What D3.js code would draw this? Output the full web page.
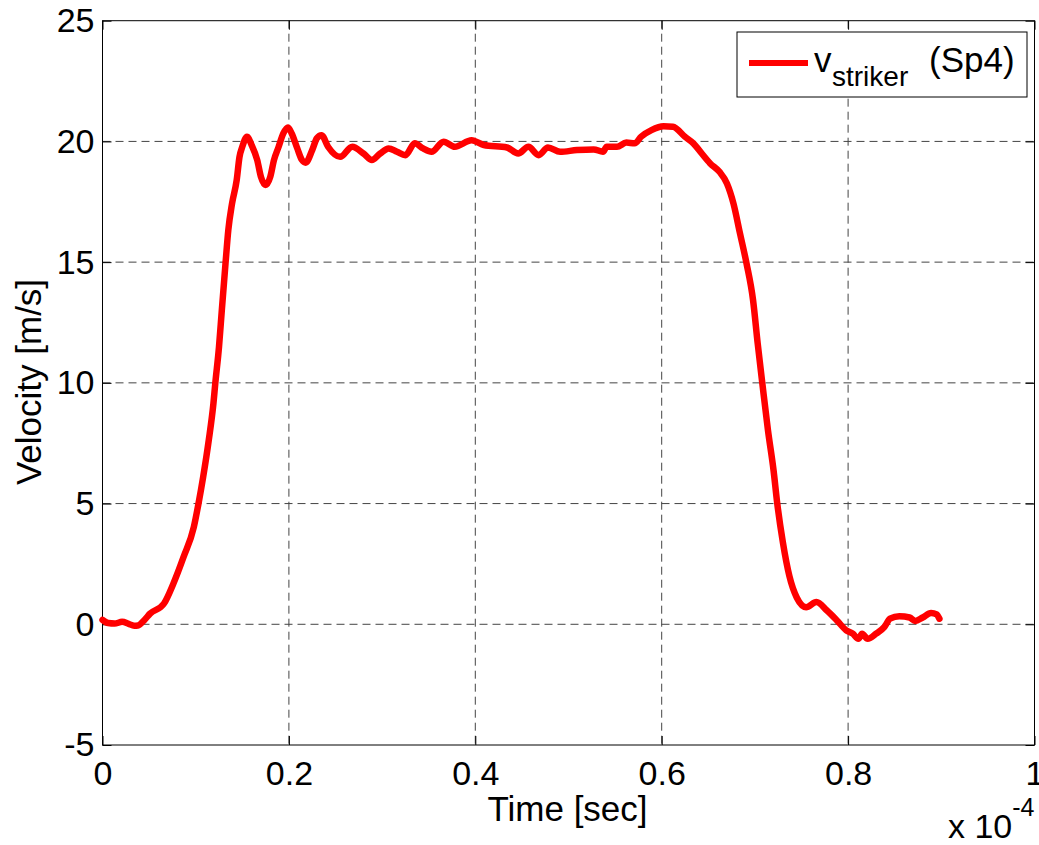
<!DOCTYPE html>
<html>
<head>
<meta charset="utf-8">
<script src="https://cdn.jsdelivr.net/npm/d3@7"></script>
<style>
  body { margin: 0; background: #fff; }
  svg { display: block; font-family: "Liberation Sans", Arial, Helvetica, sans-serif; }
  .axis text { font-size: 34px; fill: #000; }
  .axis line { stroke: #000; }
  .grid line { stroke: #444; stroke-dasharray: 8,5; }
</style>
</head>
<body>
<svg id="chart" width="1039" height="845"></svg>
<script>
// time in units of 1e-4 s, velocity in m/s
var timeVals = [0.000, 0.006, 0.013, 0.021, 0.028, 0.034, 0.038, 0.045, 0.051, 0.066,
    0.076, 0.087, 0.098, 0.103, 0.108, 0.114, 0.119, 0.121, 0.125, 0.128,
    0.132, 0.135, 0.139, 0.144, 0.147, 0.150, 0.155, 0.160, 0.166, 0.170,
    0.175, 0.180, 0.184, 0.189, 0.194, 0.199, 0.203, 0.209, 0.214, 0.218,
    0.225, 0.230, 0.235, 0.242, 0.255, 0.268, 0.280, 0.289, 0.298, 0.307,
    0.316, 0.325, 0.335, 0.344, 0.353, 0.366, 0.378, 0.396, 0.409, 0.434,
    0.446, 0.457, 0.468, 0.478, 0.491, 0.509, 0.527, 0.537, 0.541, 0.552,
    0.562, 0.571, 0.578, 0.589, 0.602, 0.612, 0.625, 0.634, 0.643, 0.652,
    0.662, 0.670, 0.677, 0.684, 0.691, 0.698, 0.703, 0.708, 0.714, 0.720,
    0.724, 0.730, 0.737, 0.745, 0.755, 0.766, 0.777, 0.788, 0.798, 0.805,
    0.811, 0.815, 0.821, 0.830, 0.839, 0.845, 0.855, 0.866, 0.872, 0.880,
    0.889, 0.895, 0.898];
var velocityVals = [0.18, 0.05, 0.03, 0.10, 0.02, -0.06, -0.05, 0.18, 0.44, 0.86,
    1.68, 2.79, 4.03, 5.00, 6.10, 7.62, 9.14, 9.97, 11.49, 13.00,
    14.95, 16.33, 17.43, 18.40, 19.36, 19.78, 20.19, 19.85, 19.23, 18.53,
    18.19, 18.53, 19.23, 19.78, 20.33, 20.58, 20.33, 19.71, 19.23, 19.12,
    19.64, 20.13, 20.26, 19.78, 19.36, 19.78, 19.50, 19.23, 19.50, 19.71,
    19.57, 19.43, 19.92, 19.71, 19.57, 19.99, 19.78, 20.05, 19.85, 19.75,
    19.50, 19.78, 19.43, 19.75, 19.57, 19.64, 19.67, 19.57, 19.78, 19.78,
    19.95, 19.92, 20.20, 20.47, 20.63, 20.61, 20.19, 19.92, 19.50, 19.09,
    18.74, 18.26, 17.43, 16.19, 14.95, 13.43, 11.63, 9.97, 8.04, 6.38,
    5.00, 3.40, 2.00, 1.10, 0.71, 0.92, 0.58, 0.16, -0.25, -0.39,
    -0.60, -0.39, -0.60, -0.39, -0.11, 0.23, 0.33, 0.28, 0.14, 0.28,
    0.47, 0.41, 0.23];
var xTicks = [0, 0.2, 0.4, 0.6, 0.8, 1];
var yTicks = [-5, 0, 5, 10, 15, 20, 25];
var seriesName = "striker";

var svg = d3.select("#chart");
var plotLeft = 102.5, plotRight = 1034.5, plotTop = 20.7, plotBottom = 745;

var xScale = d3.scaleLinear().domain([0, 1]).range([plotLeft, plotRight]);
var yScale = d3.scaleLinear().domain([-5, 25]).range([plotBottom, plotTop]);

var data = timeVals.map(function(t, i){ return {t: t, v: velocityVals[i]}; });

// grid
var grid = svg.append("g").attr("class", "grid");
grid.selectAll("line.gx")
    .data(xTicks.slice(1, -1))
    .enter().append("line")
    .attr("x1", function(d){ return xScale(d); })
    .attr("x2", function(d){ return xScale(d); })
    .attr("y1", plotTop).attr("y2", plotBottom);
grid.selectAll("line.gy")
    .data(yTicks.slice(1, -1))
    .enter().append("line")
    .attr("y1", function(d){ return yScale(d); })
    .attr("y2", function(d){ return yScale(d); })
    .attr("x1", plotLeft).attr("x2", plotRight);

// axes, ticks pointing inward (plain hyphen for negatives, like matlab)
var fmt = function(d){ return String(d); };
svg.append("g").attr("class", "axis")
    .attr("transform", "translate(0," + plotBottom + ")")
    .call(d3.axisBottom(xScale).tickValues(xTicks).tickFormat(fmt)
        .tickSizeInner(-9).tickSizeOuter(0).tickPadding(16));
svg.append("g").attr("class", "axis")
    .attr("transform", "translate(0," + plotTop + ")")
    .call(d3.axisTop(xScale).tickValues(xTicks).tickFormat("")
        .tickSizeInner(-9).tickSizeOuter(0));
svg.append("g").attr("class", "axis")
    .attr("transform", "translate(" + plotLeft + ",0)")
    .call(d3.axisLeft(yScale).tickValues(yTicks).tickFormat(fmt)
        .tickSizeInner(-9).tickSizeOuter(0).tickPadding(8));
svg.append("g").attr("class", "axis")
    .attr("transform", "translate(" + plotRight + ",0)")
    .call(d3.axisRight(yScale).tickValues(yTicks).tickFormat("")
        .tickSizeInner(-9).tickSizeOuter(0));
svg.selectAll(".axis path.domain").remove();
svg.selectAll(".axis text").attr("font-family", null).attr("font-size", null);

// box
svg.append("rect")
    .attr("x", plotLeft).attr("y", plotTop)
    .attr("width", plotRight - plotLeft).attr("height", plotBottom - plotTop)
    .style("fill", "none").style("stroke", "#000").style("stroke-width", 1);

// the curve
var line = d3.line()
    .x(function(d){ return xScale(d.t); })
    .y(function(d){ return yScale(d.v); })
    .curve(d3.curveMonotoneX);
svg.append("path")
    .datum(data)
    .attr("d", line)
    .style("fill", "none")
    .style("stroke", "#ff0000")
    .style("stroke-width", 6.5)
    .style("stroke-linejoin", "round")
    .style("stroke-linecap", "round");

// axis labels
svg.append("text")
    .attr("x", (plotLeft + plotRight) / 2 - 1).attr("y", 821)
    .attr("text-anchor", "middle")
    .style("font-size", "35px")
    .text("Time [sec]");
svg.append("text")
    .attr("transform", "translate(41," + 382 + ") rotate(-90)")
    .attr("text-anchor", "middle")
    .style("font-size", "35px")
    .text("Velocity [m/s]");
var expo = svg.append("text")
    .attr("x", 948).attr("y", 838)
    .style("font-size", "34px");
expo.append("tspan").text("x 10");
expo.append("tspan").attr("dy", -22).style("font-size", "25px").text("-4");

// legend
var lg = svg.append("g");
lg.append("rect")
    .attr("x", 737).attr("y", 32).attr("width", 290).attr("height", 65)
    .style("fill", "#fff").style("stroke", "#000").style("stroke-width", 1);
lg.append("line")
    .attr("x1", 749).attr("x2", 808).attr("y1", 63).attr("y2", 63)
    .style("stroke", "#ff0000").style("stroke-width", 6);
lg.append("text").attr("x", 814).attr("y", 72).style("font-size", "35px").text("v");
lg.append("text").attr("x", 832).attr("y", 86).style("font-size", "28px").text(seriesName);
lg.append("text").attr("x", 929).attr("y", 72).style("font-size", "35px").text("(Sp4)");
</script>
</body>
</html>
